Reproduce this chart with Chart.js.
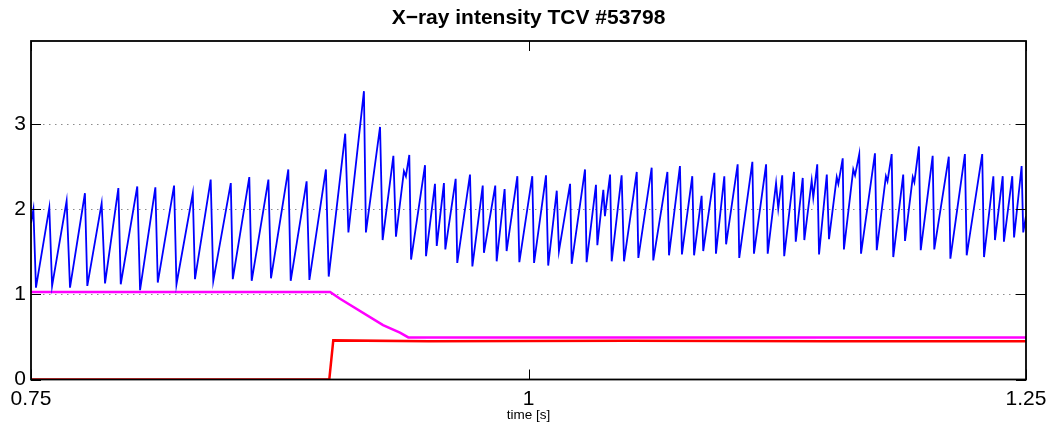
<!DOCTYPE html>
<html><head><meta charset="utf-8">
<script src="https://cdn.jsdelivr.net/npm/chart.js@4/dist/chart.umd.min.js"></script>
<style>html,body{margin:0;padding:0;background:#fff}#wrap{width:1055px;height:423px}</style>
</head><body><div id="wrap"><canvas id="c" width="1055" height="423"></canvas></div>
<script>
const chartTitle = 'X\u2212ray intensity TCV #53798';
const xAxisLabel = 'time [s]';
const xTickValues = [0.75, 1, 1.25];
const yTickValues = [0, 1, 2, 3];

// blue: X-ray intensity (time [s], value)
const blueSamples = [
[0.7500,1.84],[0.7512,2.00],[0.7525,1.08],[0.7592,2.02],[0.7606,1.10],[0.7679,2.10],[0.7696,1.08],
[0.7771,2.19],[0.7783,1.10],[0.7855,2.07],[0.7872,1.13],[0.7939,2.25],[0.7951,1.12],[0.8034,2.27],
[0.8048,1.05],[0.8125,2.26],[0.8137,1.14],[0.8219,2.28],[0.8231,1.12],[0.8313,2.19],[0.8324,1.18],
[0.8403,2.35],[0.8416,1.16],[0.8504,2.31],[0.8514,1.18],[0.8597,2.38],[0.8609,1.16],[0.8693,2.35],
[0.8706,1.19],[0.8793,2.47],[0.8805,1.16],[0.8885,2.33],[0.8899,1.17],[0.8982,2.47],[0.8996,1.21],
[0.9079,2.89],[0.9095,1.73],[0.9173,3.39],[0.9183,1.73],[0.9254,2.97],[0.9267,1.64],[0.9321,2.63],
[0.9334,1.68],[0.9374,2.45],[0.9384,2.39],[0.9401,2.64],[0.9410,1.41],[0.9480,2.52],[0.9485,1.45],
[0.9530,2.30],[0.9539,1.57],[0.9575,2.31],[0.9582,1.53],[0.9634,2.36],[0.9642,1.37],[0.9706,2.41],
[0.9718,1.33],[0.9770,2.28],[0.9776,1.49],[0.9833,2.28],[0.9840,1.39],[0.9880,2.24],[0.9890,1.51],
[0.9944,2.39],[0.9954,1.38],[1.0019,2.39],[1.0028,1.37],[1.0088,2.40],[1.0099,1.34],[1.0142,2.22],
[1.0153,1.51],[1.0209,2.30],[1.0217,1.36],[1.0284,2.47],[1.0292,1.38],[1.0339,2.29],[1.0346,1.58],
[1.0376,2.23],[1.0384,1.92],[1.0410,2.41],[1.0418,1.39],[1.0468,2.40],[1.0480,1.39],[1.0544,2.44],
[1.0552,1.43],[1.0619,2.49],[1.0627,1.40],[1.0698,2.44],[1.0706,1.46],[1.0761,2.51],[1.0771,1.47],
[1.0823,2.39],[1.0832,1.46],[1.0870,2.16],[1.0878,1.51],[1.0934,2.43],[1.0942,1.48],[1.0984,2.39],
[1.0993,1.59],[1.1051,2.53],[1.1059,1.43],[1.1125,2.56],[1.1133,1.48],[1.1194,2.53],[1.1202,1.48],
[1.1244,2.31],[1.1255,2.01],[1.1275,2.40],[1.1285,1.45],[1.1334,2.44],[1.1343,1.62],[1.1378,2.37],
[1.1386,1.64],[1.1423,2.34],[1.1431,2.14],[1.1451,2.53],[1.1460,1.47],[1.1499,2.41],[1.1510,1.65],
[1.1549,2.38],[1.1557,2.30],[1.1579,2.60],[1.1585,1.53],[1.1632,2.47],[1.1641,2.40],[1.1662,2.65],
[1.1671,1.48],[1.1741,2.66],[1.1750,1.52],[1.1796,2.39],[1.1804,2.33],[1.1825,2.65],[1.1833,1.44],
[1.1883,2.41],[1.1892,1.63],[1.1931,2.38],[1.1939,2.32],[1.1962,2.74],[1.1971,1.52],[1.2031,2.63],
[1.2039,1.53],[1.2112,2.62],[1.2120,1.42],[1.2193,2.65],[1.2202,1.46],[1.2280,2.65],[1.2289,1.44],
[1.2336,2.39],[1.2344,1.64],[1.2383,2.39],[1.2389,1.62],[1.2431,2.39],[1.2440,1.67],[1.2478,2.51],
[1.2486,1.73],[1.2500,1.92]
];
// magenta trace
const magentaSamples = [[0.75,1.03],[0.9003,1.03],[0.9053,0.95],[0.9269,0.64],[0.9354,0.55],[0.9396,0.495],[1.25,0.495]];
// red trace
const redSamples = [[0.75,0],[0.8999,0],[0.9019,0.46],[0.95,0.45],[1.05,0.455],[1.15,0.45],[1.25,0.45]];

const toXY = arr => arr.map(p => ({x: p[0], y: p[1]}));

const framePlugin = {
  id: 'frame',
  afterDatasetsDraw(chart) {
    const {ctx, chartArea: a, scales: {x, y}} = chart;
    ctx.save();
    ctx.setLineDash([]);
    ctx.strokeStyle = '#000';
    ctx.lineWidth = 1.8;
    ctx.strokeRect(a.left, a.top, a.right - a.left, a.bottom - a.top);
    ctx.lineWidth = 1;
    const L = 10;
    ctx.beginPath();
    for (const v of xTickValues) {
      const px = Math.round(x.getPixelForValue(v)) + 0.5;
      ctx.moveTo(px, a.bottom); ctx.lineTo(px, a.bottom - L);
      ctx.moveTo(px, a.top); ctx.lineTo(px, a.top + L);
    }
    for (const v of yTickValues) {
      const py = Math.round(y.getPixelForValue(v)) + 0.5;
      ctx.moveTo(a.left, py); ctx.lineTo(a.left + L, py);
      ctx.moveTo(a.right, py); ctx.lineTo(a.right - L, py);
    }
    ctx.stroke();
    ctx.restore();
  }
};

const tickFont = {family: "'Liberation Sans', Arial, Helvetica, sans-serif", size: 21};

new Chart(document.getElementById('c'), {
  type: 'line',
  data: {
    datasets: [
      {data: toXY(blueSamples), borderColor: '#0000ff', borderWidth: 1.8},
      {data: toXY(magentaSamples), borderColor: '#ff00ff', borderWidth: 2.5},
      {data: toXY(redSamples), borderColor: '#ff0000', borderWidth: 2.5}
    ]
  },
  options: {
    responsive: false,
    devicePixelRatio: 1,
    animation: false,
    elements: {point: {radius: 0}, line: {tension: 0}},
    layout: {padding: {left: 0, right: 29, top: 0, bottom: 0}},
    plugins: {
      legend: {display: false},
      tooltip: {enabled: false},
      title: {
        display: true, fullSize: false, text: chartTitle, color: '#000',
        font: {family: "'Liberation Sans', Arial, Helvetica, sans-serif", size: 21, weight: 'bold'},
        padding: {top: 6, bottom: 9.8}
      }
    },
    scales: {
      x: {
        type: 'linear', min: 0.75, max: 1.25,
        afterBuildTicks: s => { s.ticks = xTickValues.map(v => ({value: v})); },
        afterFit: s => { s.height = 43.5; },
        ticks: {color: '#000', font: tickFont, padding: 7, maxRotation: 0, autoSkip: false,
                callback: v => String(v)},
        grid: {display: false, drawTicks: false},
        border: {display: false},
        title: {display: true, text: xAxisLabel, color: '#000',
                font: {family: "'Liberation Sans', Arial, Helvetica, sans-serif", size: 13.5},
                padding: {top: 0, bottom: 0}}
      },
      y: {
        type: 'linear', min: 0, max: 3.98,
        afterBuildTicks: s => { s.ticks = yTickValues.map(v => ({value: v})); },
        afterFit: s => { s.width = 31; },
        ticks: {color: '#000', font: tickFont, padding: 5, callback: v => String(v)},
        grid: {drawTicks: false, lineWidth: 1,
               color: c => (c.tick && c.tick.value === 0) ? 'rgba(0,0,0,0)' : '#8c8c8c'},
        border: {display: false, dash: [1.5, 4.5]}
      }
    }
  },
  plugins: [framePlugin]
});
</script>
</body></html>
